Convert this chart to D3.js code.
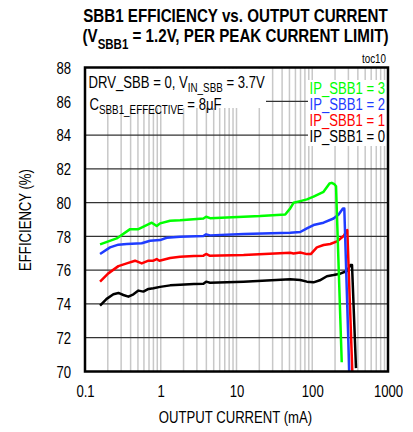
<!DOCTYPE html>
<html>
<head>
<meta charset="utf-8">
<script src="https://cdn.jsdelivr.net/npm/d3@7"></script>
<style>
  html, body { margin: 0; padding: 0; background: #fff; }
  svg { display: block; }
  text { font-family: 'Liberation Sans', Arial, sans-serif; }
</style>
</head>
<body>
<svg id="chart" width="413" height="432"></svg>
<script>
// ---------- data ----------
const ip3Current = [0.158, 0.262, 0.394, 0.507, 0.761, 0.885, 0.98, 1.33, 1.80, 3.66, 3.97, 4.48, 7.45, 20.5, 44.0, 51.2, 56.6, 69.4, 85, 104, 141, 169, 181, 195, 206, 245];
const ip3Eff     = [77.53, 77.88, 78.43, 78.43, 78.81, 78.61, 78.77, 78.93, 78.95, 79.06, 79.16, 79.08, 79.12, 79.20, 79.30, 79.66, 79.99, 80.09, 80.19, 80.35, 80.64, 81.13, 81.17, 81.10, 80.97, 70.55];

const ip2Current = [0.158, 0.214, 0.276, 0.356, 0.561, 0.723, 0.98, 1.20, 1.80, 3.66, 3.97, 4.48, 12.4, 51.2, 69.4, 85, 104, 141, 191, 223, 254, 265, 308];
const ip2Eff     = [76.96, 77.35, 77.51, 77.55, 77.59, 77.74, 77.78, 77.92, 77.98, 78.02, 78.12, 78.06, 78.14, 78.22, 78.26, 78.47, 78.67, 78.81, 79.06, 79.30, 79.65, 79.65, 70.0];

const ip1Current = [0.158, 0.203, 0.276, 0.356, 0.458, 0.561, 0.688, 0.80, 0.885, 0.96, 1.33, 1.80, 2.74, 3.66, 3.97, 4.40, 12.4, 51.2, 56.6, 69.4, 85, 95.6, 115, 141, 173, 212, 259, 290, 338];
const ip1Eff     = [75.32, 75.81, 76.24, 76.40, 76.56, 76.40, 76.56, 76.56, 76.66, 76.56, 76.72, 76.80, 76.84, 76.86, 76.96, 76.86, 76.90, 77.03, 76.99, 77.05, 76.95, 76.95, 77.35, 77.49, 77.55, 77.70, 78.02, 78.38, 70.0];

const ip0Current = [0.158, 0.193, 0.237, 0.276, 0.321, 0.374, 0.436, 0.507, 0.590, 0.688, 0.80, 0.98, 1.33, 1.80, 2.74, 3.66, 3.97, 4.48, 12.4, 51.2, 69.4, 85, 104, 126, 156, 191, 234, 287, 318, 335, 378];
const ip0Eff     = [73.90, 74.30, 74.57, 74.65, 74.53, 74.43, 74.57, 74.79, 74.73, 74.89, 74.93, 75.01, 75.10, 75.14, 75.18, 75.20, 75.32, 75.26, 75.32, 75.46, 75.42, 75.32, 75.28, 75.40, 75.64, 75.71, 75.79, 75.95, 76.30, 76.30, 70.2];

const seriesNames  = ["IP_SBB1 = 3", "IP_SBB1 = 2", "IP_SBB1 = 1", "IP_SBB1 = 0"];
const seriesColors = ["#00ff00", "#1f3cff", "#ff0000", "#000000"];
const xTickValues  = [0.1, 1, 10, 100, 1000];
const xTickLabels  = ["0.1", "1", "10", "100", "1000"];
const yTickValues  = [70, 72, 74, 76, 78, 80, 82, 84, 86, 88];

// ---------- layout ----------
const svg = d3.select("#chart");
const L = 85, R = 388, T = 67.5, B = 371.5;
const NARROW = 0.82;

const x = d3.scaleLog().domain([0.1, 1000]).range([L, R]);
const y = d3.scaleLinear().domain([70, 88]).range([B, T]);

// minor/major vertical grid (light gray)
const vGrid = [];
for (let e = -1; e < 3; e++) {
  for (let m = 1; m <= 9; m++) {
    const v = m * Math.pow(10, e);
    if (v > 0.1 * 1.0001) vGrid.push(v);
  }
}
svg.append("g").selectAll("line").data(vGrid).join("line")
  .attr("x1", d => x(d)).attr("x2", d => x(d))
  .attr("y1", T).attr("y2", B)
  .attr("stroke", "#c8c8c8").attr("stroke-width", 1.5);

// horizontal grid (dark)
svg.append("g").selectAll("line").data(yTickValues.slice(1, -1)).join("line")
  .attr("x1", L).attr("x2", R)
  .attr("y1", d => y(d)).attr("y2", d => y(d))
  .attr("stroke", "#333").attr("stroke-width", 1.2);

// white boxes behind annotation & legend
svg.append("rect").attr("x", L + 1).attr("y", T + 1).attr("width", 265 - L).attr("height", 108 - T - 1).attr("fill", "#fff");
svg.append("rect").attr("x", 308).attr("y", 80).attr("width", R - 308 - 1).attr("height", 66).attr("fill", "#fff");

// curves
const allSeries = [
  { c: ip3Current, e: ip3Eff },
  { c: ip2Current, e: ip2Eff },
  { c: ip1Current, e: ip1Eff },
  { c: ip0Current, e: ip0Eff }
];
const line = d3.line().x(d => x(d[0])).y(d => y(d[1]));
svg.append("defs").append("clipPath").attr("id", "clip")
  .append("rect").attr("x", L).attr("y", T).attr("width", R - L).attr("height", B - T);
const curves = svg.append("g").attr("clip-path", "url(#clip)");
allSeries.slice().reverse().forEach((s, i) => {
  const idx = allSeries.length - 1 - i;
  curves.append("path")
    .datum(s.c.map((c, k) => [c, s.e[k]]))
    .attr("d", line)
    .attr("fill", "none")
    .attr("stroke", seriesColors[idx])
    .attr("stroke-width", 2.5)
    .attr("stroke-linejoin", "round");
});

// frame
svg.append("rect").attr("x", L).attr("y", T).attr("width", R - L).attr("height", B - T)
  .attr("fill", "none").attr("stroke", "#000").attr("stroke-width", 2.5);

// axes
const xAxis = d3.axisBottom(x).tickValues(xTickValues)
  .tickFormat((d, i) => xTickLabels[i]).tickSize(0).tickPadding(0);
const gx = svg.append("g").attr("transform", `translate(0,${B})`).call(xAxis);
gx.select(".domain").remove();
gx.selectAll("text").attr("font-size", 16).attr("fill", "#000")
  .attr("font-family", null).attr("dy", null).attr("y", 397 - B);

const yAxis = d3.axisLeft(y).tickValues(yTickValues).tickSize(0).tickPadding(0);
const gy = svg.append("g").attr("transform", `translate(71,0)`).call(yAxis);
gy.select(".domain").remove();
gy.selectAll("text").attr("font-size", 16).attr("fill", "#000")
  .attr("font-family", null).attr("x", 0).attr("dy", "0.36em");

// axis titles
svg.append("text").attr("x", 235.5).attr("y", 423).attr("text-anchor", "middle")
  .attr("font-size", 16).text("OUTPUT CURRENT (mA)");
svg.append("text").attr("transform", "translate(31,220) rotate(-90)").attr("text-anchor", "middle")
  .attr("font-size", 16).text("EFFICIENCY (%)");

// title
svg.append("text").attr("x", 235.5).attr("y", 22.5).attr("text-anchor", "middle")
  .attr("font-size", 18.5).attr("font-weight", "bold").text("SBB1 EFFICIENCY vs. OUTPUT CURRENT");
const t2 = svg.append("text").attr("x", 235.5).attr("y", 42.5).attr("text-anchor", "middle")
  .attr("font-size", 18.5).attr("font-weight", "bold");
t2.append("tspan").text("(V");
t2.append("tspan").attr("font-size", 14).attr("dy", 7).text("SBB1");
t2.append("tspan").attr("dy", -7).text(" = 1.2V, PER PEAK CURRENT LIMIT)");

// toc10
svg.append("text").attr("x", 386).attr("y", 63).attr("text-anchor", "end")
  .attr("font-size", 12).text("toc10");

// annotation
const a1 = svg.append("text").attr("x", 88.5).attr("y", 88).attr("font-size", 16);
a1.append("tspan").text("DRV_SBB = 0, V");
a1.append("tspan").attr("font-size", 12).attr("dy", 4).text("IN_SBB");
a1.append("tspan").attr("dy", -4).text(" = 3.7V");
const a2 = svg.append("text").attr("x", 89.5).attr("y", 110.5).attr("font-size", 16);
a2.append("tspan").text("C");
a2.append("tspan").attr("font-size", 12).attr("dy", 4).text("SBB1_EFFECTIVE");
a2.append("tspan").attr("dy", -4).text(" = 8\u03bcF");

// legend
const legendY = [94, 110, 126, 142];
svg.append("g").selectAll("text").data(seriesNames).join("text")
  .attr("x", 385).attr("y", (d, i) => legendY[i]).attr("text-anchor", "end")
  .attr("font-size", 16).attr("fill", (d, i) => seriesColors[i]).text(d => d);

// emulate a narrow (condensed) typeface: scale every text horizontally about its anchor x
svg.selectAll("text").each(function () {
  const el = d3.select(this);
  const ax = +(el.attr("x") || 0);
  const prev = el.attr("transform") || "";
  el.attr("transform", `${prev} translate(${ax},0) scale(${NARROW},1) translate(${-ax},0)`.trim());
});
</script>
</body>
</html>
